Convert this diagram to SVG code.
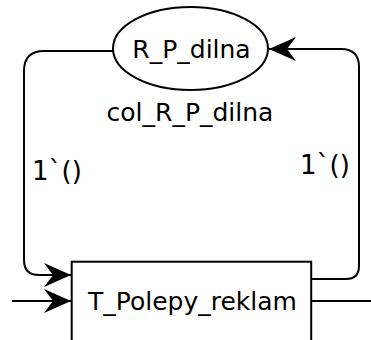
<svg xmlns="http://www.w3.org/2000/svg" width="371" height="340" viewBox="0 0 371 340">
  <style>
    .shape { fill: #ffffff; stroke: #000000; stroke-width: 2; }
    .edge { fill: none; stroke: #000000; stroke-width: 2; }
    .label { font-family: "DejaVu Sans", Verdana, sans-serif; font-size: 25px; fill: #000000; text-anchor: middle; }
    .inscr { font-family: "DejaVu Sans", Verdana, sans-serif; font-size: 26px; fill: #000000; }
  </style>
  <defs>
    <marker id="arrow" markerUnits="userSpaceOnUse" markerWidth="30" markerHeight="26" viewBox="-28 -13 30 26" refX="0" refY="0" orient="auto">
      <path d="M0,0 L-27,-12 L-18,0 L-27,12 Z" fill="#000000"/>
    </marker>
  </defs>

  <!-- connectors -->
  <g id="edges">
    <path class="edge" d="M113,51 L44,51 Q24,51 24,71 L24,260 Q24,275 39,275 L71,275" marker-end="url(#arrow)"/>
    <path class="edge" d="M311,279 L346,279 Q359,279 359,266 L359,67 Q359,49 341,49 L269,49" marker-end="url(#arrow)"/>
    <path class="edge" d="M12,301 L71,301" marker-end="url(#arrow)"/>
    <path class="edge" d="M311,301 L371,301"/>
  </g>

  <!-- place -->
  <g id="place-R_P_dilna">
    <ellipse class="shape" cx="190.5" cy="48.5" rx="77.5" ry="41.5"/>
    <text class="label" x="191.5" y="58">R_P_dilna</text>
    <text class="label" x="190" y="120.5">col_R_P_dilna</text>
  </g>

  <!-- transition -->
  <g id="transition-T_Polepy_reklam">
    <rect class="shape" x="71.7" y="261.7" width="239.5" height="90"/>
    <text class="label" x="192.5" y="310">T_Polepy_reklam</text>
  </g>

  <!-- arc inscriptions -->
  <g id="inscriptions">
    <text class="inscr" x="32" y="180">1`()</text>
    <text class="inscr" x="300" y="174">1`()</text>
  </g>
</svg>
